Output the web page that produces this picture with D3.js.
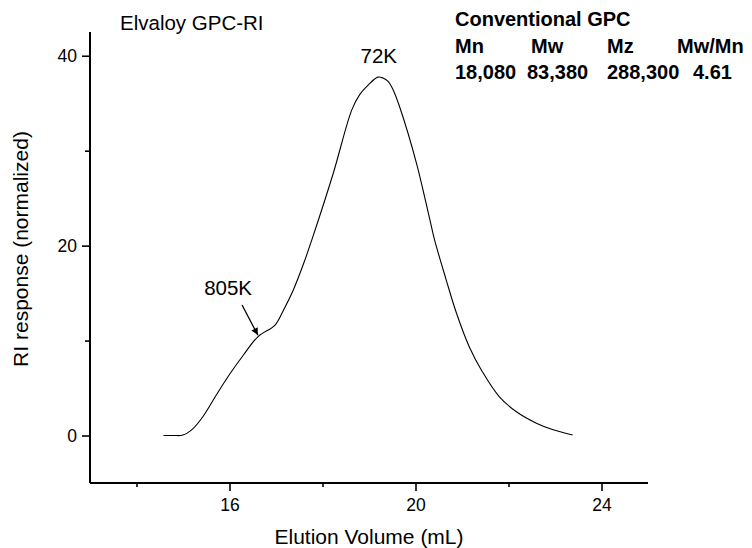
<!DOCTYPE html>
<html>
<head>
<meta charset="utf-8">
<script src="https://cdn.jsdelivr.net/npm/d3@7"></script>
<style>
  body { margin: 0; background: #fff; }
  svg { display: block; font-family: "Liberation Sans", Arial, sans-serif; }
</style>
</head>
<body>
<script>
// elution volume (mL) and normalized RI response
const volume = [14.58, 14.8, 15.0, 15.21, 15.43, 15.72, 16.01, 16.3, 16.61, 16.98, 17.16, 17.37, 17.59, 17.77,
                18.23, 18.63, 18.8, 18.98, 19.19, 19.3, 19.41, 19.52, 19.66, 20.02, 20.31, 20.41, 20.66, 20.88,
                21.16, 21.44, 21.8, 22.17, 22.6, 22.96, 23.38]
const response = [0, 0, 0.05, 0.7, 2.0, 4.3, 6.5, 8.48, 10.4, 11.64, 13.2, 15.3, 18.06, 20.6,
                  27.6, 34.3, 35.9, 36.9, 37.75, 37.65, 37.3, 36.4, 34.6, 28.7, 22.7, 20.6, 16.4, 12.9,
                  9.3, 6.7, 4.1, 2.5, 1.3, 0.6, 0.05]

const xMajor = [16, 20, 24]
const xMinor = [14, 18, 22]
const yMajor = [0, 20, 40]
const yMinor = [10, 30]

const statHeads = ['Mn', 'Mw', 'Mz', 'Mw/Mn']
const statValues = ['18,080', '83,380', '288,300', '4.61']

// peak labels: [x, y] in data units
const peakLabels = [
  { text: '72K', at: [19.21, 39.2] },
  { text: '805K', at: [15.97, 14.8] }
]
const arrowFrom = [16.27, 13.74]
const arrowTo = [16.61, 10.58]

document.addEventListener('DOMContentLoaded', () => {
  const width = 752
  const height = 548
  const left = 90, right = 648, top = 32, bottom = 483

  const xScale = d3.scaleLinear().domain([13, 25]).range([left, right])
  const yScale = d3.scaleLinear().domain([-5, 42.5]).range([bottom, top])

  const svg = d3.select('body').append('svg')
    .attr('width', width)
    .attr('height', height)

  svg.append('defs').append('marker')
    .attr('id', 'head')
    .attr('viewBox', '0 0 10 10')
    .attr('refX', 10)
    .attr('refY', 5)
    .attr('markerWidth', 10)
    .attr('markerHeight', 7)
    .attr('markerUnits', 'userSpaceOnUse')
    .attr('orient', 'auto')
    .append('path')
    .attr('d', 'M0,0 L10,5 L0,10 Z')
    .attr('fill', '#000')

  // x axis
  const xAxis = svg.append('g')
    .attr('transform', `translate(0, ${bottom})`)
    .call(d3.axisBottom(xScale).tickValues(xMajor).tickSize(8).tickPadding(8).tickFormat(d3.format('d')))
  xAxis.append('g')
    .call(d3.axisBottom(xScale).tickValues(xMinor).tickSize(4).tickFormat(''))
    .select('.domain').remove()

  // y axis
  const yAxis = svg.append('g')
    .attr('transform', `translate(${left}, 0)`)
    .call(d3.axisLeft(yScale).tickValues(yMajor).tickSize(8).tickPadding(5).tickFormat(d3.format('d')))
  yAxis.append('g')
    .call(d3.axisLeft(yScale).tickValues(yMinor).tickSize(5).tickFormat(''))
    .select('.domain').remove()

  // plain axis lines without the end caps
  xAxis.select('.domain').attr('d', `M${left},0H${right}`)
  yAxis.select('.domain').attr('d', `M0,${bottom}V${top}`)

  svg.selectAll('.domain').attr('stroke', '#000').attr('stroke-width', 2)
  svg.selectAll('.tick line').attr('stroke', '#000').attr('stroke-width', 1.6)
  svg.selectAll('.tick text')
    .attr('fill', '#000')
    .style('font-size', '17.5px')
    .style('font-family', '"Liberation Sans", Arial, sans-serif')

  // trace
  const line = d3.line()
    .x((d, i) => xScale(volume[i]))
    .y(d => yScale(d))
    .curve(d3.curveCatmullRom.alpha(0.5))

  svg.append('path')
    .datum(response)
    .attr('d', line)
    .attr('fill', 'none')
    .attr('stroke', '#000')
    .attr('stroke-width', 1.1)

  // annotations
  svg.selectAll('.peak')
    .data(peakLabels)
    .enter()
    .append('text')
    .attr('class', 'peak')
    .attr('x', d => xScale(d.at[0]))
    .attr('y', d => yScale(d.at[1]))
    .attr('text-anchor', 'middle')
    .style('font-size', '20.5px')
    .text(d => d.text)

  svg.append('line')
    .attr('x1', xScale(arrowFrom[0]))
    .attr('y1', yScale(arrowFrom[1]))
    .attr('x2', xScale(arrowTo[0]))
    .attr('y2', yScale(arrowTo[1]))
    .attr('stroke', '#000')
    .attr('stroke-width', 1.3)
    .attr('marker-end', 'url(#head)')

  // titles
  svg.append('text')
    .attr('x', 120)
    .attr('y', 30)
    .style('font-size', '20.5px')
    .text('Elvaloy GPC-RI')

  svg.append('text')
    .attr('x', (left + right) / 2)
    .attr('y', 544)
    .attr('text-anchor', 'middle')
    .style('font-size', '21px')
    .text('Elution Volume (mL)')

  svg.append('text')
    .attr('transform', 'translate(28, 249) rotate(-90)')
    .attr('text-anchor', 'middle')
    .style('font-size', '21px')
    .text('RI response (normalized)')

  // stats block
  const stats = svg.append('g')
    .style('font-size', '20px')
    .style('font-weight', 'bold')

  stats.append('text').attr('x', 455).attr('y', 26).text('Conventional GPC')

  const colX = [455, 531, 607, 677]
  const valX = [455, 527, 607, 693]

  stats.selectAll('.head')
    .data(statHeads)
    .enter()
    .append('text')
    .attr('x', (d, i) => colX[i])
    .attr('y', 53)
    .text(d => d)

  stats.selectAll('.val')
    .data(statValues)
    .enter()
    .append('text')
    .attr('x', (d, i) => valX[i])
    .attr('y', 79)
    .text(d => d)
})
</script>
</body>
</html>
